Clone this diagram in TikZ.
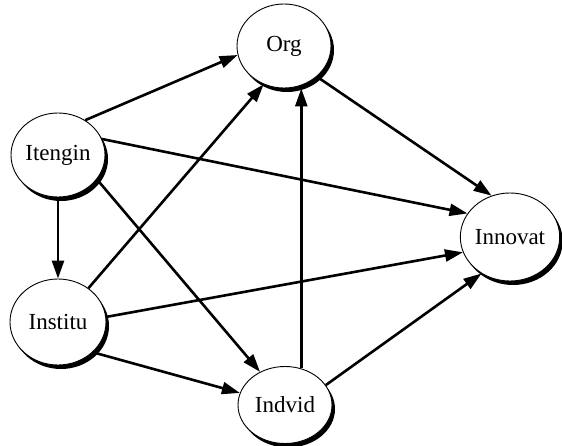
\documentclass[tikz,border=0pt]{standalone}
\usepackage{fontspec}
\setmainfont{Liberation Serif}
\usetikzlibrary{shapes.geometric,arrows.meta,shadows}
\begin{document}
\begin{tikzpicture}[x=1pt,y=-1pt,
  vnode/.style={ellipse,draw=black,line width=0.9pt,fill=white,inner sep=0pt,
    minimum width=94pt,minimum height=84pt,font=\fontsize{23}{25}\selectfont,
    general shadow={fill=black,shadow xshift=3pt,shadow yshift=-4pt}},
  arr/.style={line width=2.6pt,-{Triangle[length=18pt,width=12pt]}}]
\useasboundingbox (0,0) rectangle (562,446);
\node[vnode] (org) at (284,46) {Org};
\node[vnode] (ite) at (58,155) {Itengin};
\node[vnode,minimum height=88pt] (inn) at (510,237) {Innovat};
\node[vnode,minimum width=96pt,minimum height=86pt] (ins) at (58,322) {Institu};
\node[vnode,minimum width=94pt,minimum height=77pt] (ind) at (285,405) {Indvid};
\draw[arr] (ite.52) -- (org.191);
\draw[arr] (org.317) -- (inn.114);
\draw[arr] (ite.20) -- (inn.151);
\draw[arr] (ite.south) -- (ins.north);
\draw[arr] (ite.328) -- (ind.127);
\draw[arr] (ins.48) -- (org.242);
\draw[arr] (ins.6) -- (inn.198);
\draw[arr] (ins.319) -- (ind.165);
\draw[arr] (ind.66) -- (ind.66 |- org.south);
\draw[arr] (ind.26) -- (inn.232);
\end{tikzpicture}
\end{document}
